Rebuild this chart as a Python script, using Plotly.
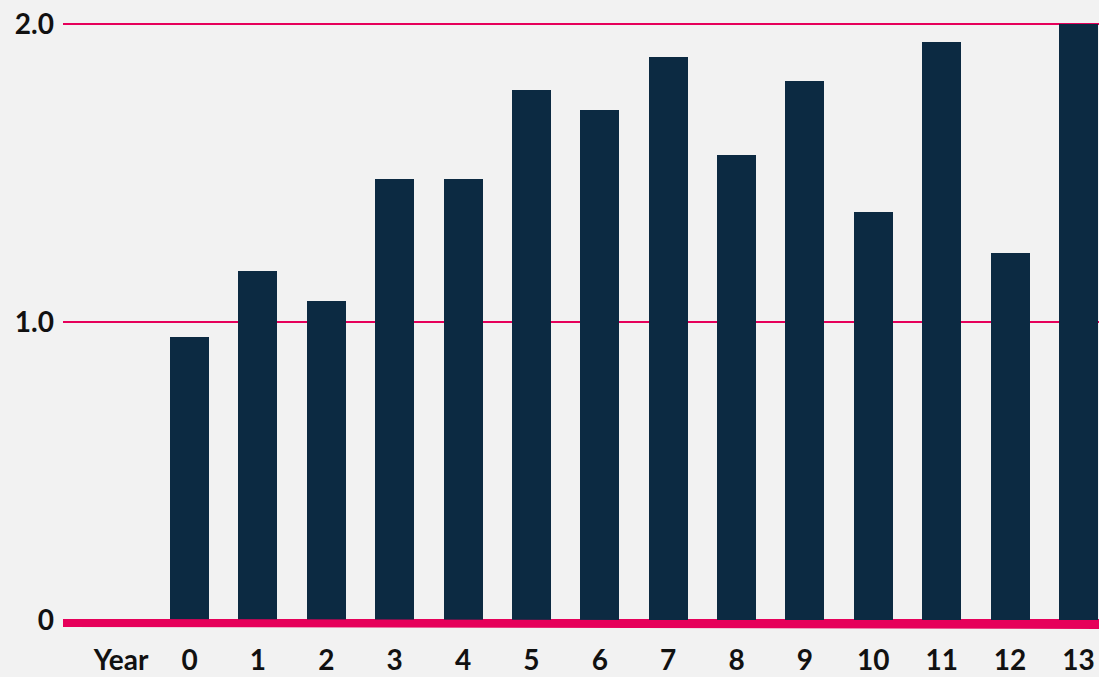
import plotly.graph_objects as go

# Categories along the x axis ("Year" is a header slot with no bar)
categories = ["Year", "0", "1", "2", "3", "4", "5", "6", "7", "8", "9", "10", "11", "12", "13"]
values = [None, 0.95, 1.17, 1.07, 1.48, 1.48, 1.78, 1.71, 1.89, 1.56, 1.81, 1.37, 1.94, 1.23, 2.0]
y_ticks = [0, 1.0, 2.0]
y_tick_labels = ["0", "1.0", "2.0"]

BG = "#f2f2f2"
NAVY = "#0c2a42"
PINK = "#e6005a"
FONT = dict(family="Lato, 'Open Sans', sans-serif", size=28, color="#111111", weight=700)

fig = go.Figure(
    go.Bar(
        x=categories,
        y=values,
        marker=dict(color=NAVY, line=dict(width=0)),
        width=0.57,
        hoverinfo="skip",
    )
)

# Thick baseline just under zero, drawn above the bars
fig.add_shape(
    type="line",
    xref="paper", yref="y",
    x0=0, x1=1,
    ysizemode="pixel", yanchor=0,
    y0=-3, y1=-5,
    line=dict(color=PINK, width=8),
    layer="above",
)

fig.update_layout(
    width=1099,
    height=677,
    margin=dict(l=63, r=0, t=0, b=37),
    paper_bgcolor=BG,
    plot_bgcolor=BG,
    showlegend=False,
    font=FONT,
    bargap=0,
    xaxis=dict(
        type="category",
        categoryorder="array",
        categoryarray=categories,
        range=[-0.85, 14.30],
        showgrid=False,
        zeroline=False,
        showline=False,
        ticks="",
        ticklabelstandoff=1,
        tickfont=FONT,
        fixedrange=True,
    ),
    yaxis=dict(
        range=[-0.0671, 2.0805],
        tickvals=y_ticks,
        ticktext=y_tick_labels,
        showgrid=True,
        gridcolor=PINK,
        gridwidth=2,
        zeroline=False,
        showline=False,
        ticks="",
        ticklabelstandoff=8,
        tickfont=FONT,
        fixedrange=True,
    ),
)

fig.write_html("out.html", config=dict(displayModeBar=False))
